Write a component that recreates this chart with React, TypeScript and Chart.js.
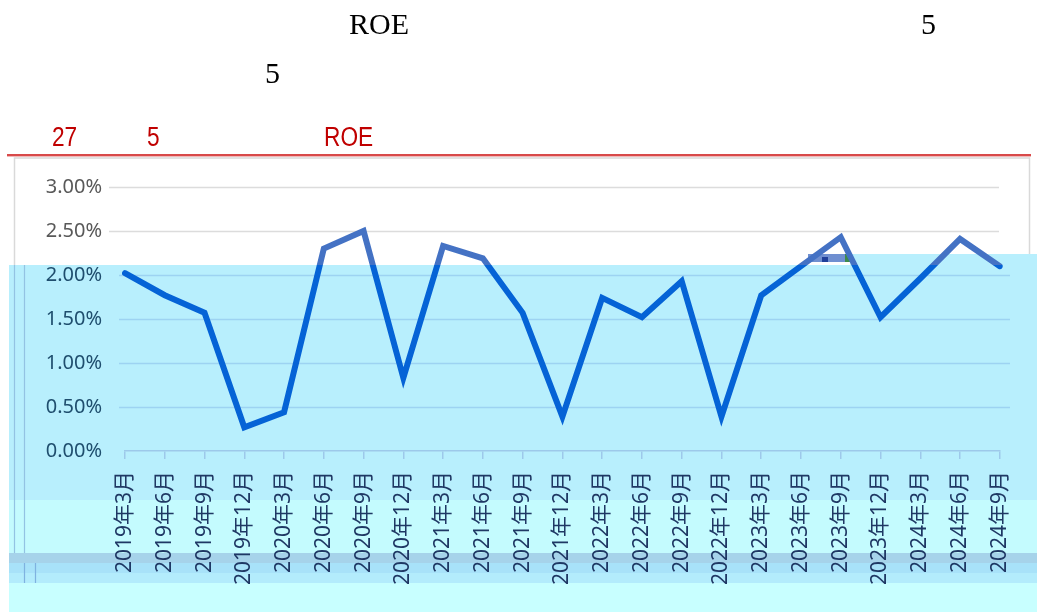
import React, { useEffect, useRef } from "react";
import { Chart, registerables } from "chart.js";

Chart.register(...registerables);

const categories = [
  "2019年3月", "2019年6月", "2019年9月", "2019年12月",
  "2020年3月", "2020年6月", "2020年9月", "2020年12月",
  "2021年3月", "2021年6月", "2021年9月", "2021年12月",
  "2022年3月", "2022年6月", "2022年9月", "2022年12月",
  "2023年3月", "2023年6月", "2023年9月", "2023年12月",
  "2024年3月", "2024年6月", "2024年9月",
];

const roeValues = [
  2.02, 1.77, 1.57, 0.27,
  0.44, 2.30, 2.50, 0.83,
  2.33, 2.19, 1.57, 0.39,
  1.74, 1.52, 1.93, 0.39,
  1.77, 2.10, 2.43, 1.52,
  1.96, 2.41, 2.10,
];

const yMin = 0;
const yMax = 3;
const yStep = 0.5;

const SPLIT_Y = 265;
const UPPER_LINE = "#4472c4";
const LOWER_LINE = "#0563d6";

const backgroundPlugin = {
  id: "bgPanels",
  beforeDraw(chart: any) {
    const c = chart.ctx;
    c.save();
    c.fillStyle = "#ffffff";
    c.fillRect(0, 0, chart.width, chart.height);
    // red rule
    c.fillStyle = "#f2b8b8";
    c.fillRect(7, 156, 1024, 1);
    c.fillStyle = "#d84a4a";
    c.fillRect(7, 154, 1024, 2);
    // chart frame (white part)
    c.strokeStyle = "#d9d9d9";
    c.lineWidth = 1.5;
    c.beginPath();
    c.moveTo(14.5, SPLIT_Y);
    c.lineTo(14.5, 158);
    c.lineTo(1029.5, 158);
    c.lineTo(1029.5, 255);
    c.stroke();
    // blue panels
    c.fillStyle = "#b8effd";
    c.fillRect(9, SPLIT_Y, 1028, 500 - SPLIT_Y);
    c.fillRect(850, 254, 187, SPLIT_Y - 254);
    // glitch block
    c.fillStyle = "#6f8fd0";
    c.fillRect(808, 254, 42, 8);
    c.fillStyle = "#1f3f9a";
    c.fillRect(822, 257, 6, 5);
    c.fillStyle = "#3d8a4a";
    c.fillRect(845, 254, 5, 8);
    c.fillStyle = "#c4fbfe";
    c.fillRect(9, 500, 1028, 53);
    c.fillStyle = "#a6d3ea";
    c.fillRect(9, 553, 1028, 10);
    c.fillStyle = "#a8e2f9";
    c.fillRect(9, 563, 1028, 10);
    c.fillStyle = "#b3ecfc";
    c.fillRect(9, 573, 1028, 10);
    c.fillStyle = "#c8ffff";
    c.fillRect(9, 583, 1028, 29);
    // faint vertical frame lines in the blue panel
    c.strokeStyle = "#93c3e3";
    c.lineWidth = 1.2;
    c.beginPath();
    c.moveTo(14.5, SPLIT_Y); c.lineTo(14.5, 553);
    c.moveTo(24.5, SPLIT_Y); c.lineTo(24.5, 553);
    c.stroke();
    c.strokeStyle = "#7fb2e0";
    c.beginPath();
    c.moveTo(24.5, 563); c.lineTo(24.5, 583);
    c.moveTo(35.5, 563); c.lineTo(35.5, 583);
    c.stroke();
    c.restore();
  },
  beforeDatasetsDraw(chart: any) {
    const c = chart.ctx;
    const ys = chart.scales.y;
    c.save();
    c.lineWidth = 1.5;
    for (let v = yMin; v <= yMax + 1e-9; v += yStep) {
      const py = Math.round(ys.getPixelForValue(v)) + 0.5;
      c.beginPath();
      if (py < SPLIT_Y) {
        c.strokeStyle = "#dcdcdc";
        c.moveTo(109, py);
        c.lineTo(999, py);
      } else if (v > 0) {
        c.strokeStyle = "#9dd3f2";
        c.moveTo(119, py);
        c.lineTo(1010, py);
      }
      c.stroke();
    }
    c.restore();
  },
};

export default function App() {
  const ref = useRef<HTMLCanvasElement>(null);

  useEffect(() => {
    if (!ref.current) return;
    const chart = new Chart(ref.current, {
      type: "line",
      data: {
        labels: categories,
        datasets: [
          {
            label: "ROE",
            data: roeValues,
            borderWidth: 6,
            pointRadius: 0,
            pointHoverRadius: 0,
            tension: 0,
            fill: false,
            borderJoinStyle: "miter",
            borderCapStyle: "round",
            borderColor: (ctx: any) => {
              const ch = ctx.chart;
              const g = ch.ctx.createLinearGradient(0, 0, 0, ch.height);
              const t = SPLIT_Y / ch.height;
              g.addColorStop(0, UPPER_LINE);
              g.addColorStop(t, UPPER_LINE);
              g.addColorStop(t, LOWER_LINE);
              g.addColorStop(1, LOWER_LINE);
              return g;
            },
          },
        ],
      },
      options: {
        responsive: false,
        animation: false,
        devicePixelRatio: 1,
        layout: { padding: { left: 0, right: 34, top: 187, bottom: 0 } },
        plugins: {
          legend: { display: false },
          tooltip: { enabled: false },
          title: { display: false },
        },
        scales: {
          x: {
            offset: false,
            grid: {
              display: true,
              drawOnChartArea: false,
              drawTicks: true,
              tickLength: 8,
              color: "#9dc9ea",
              lineWidth: 1.5,
            },
            border: { display: true, color: "#9dc9ea", width: 1.5 },
            ticks: {
              autoSkip: false,
              minRotation: 90,
              maxRotation: 90,
              padding: 12,
              color: "#1f3864",
              font: { family: "'Noto Sans', 'Noto Sans CJK SC', sans-serif", size: 21 },
            },
            afterFit: (scale: any) => {
              scale.height = 161;
            },
          },
          y: {
            min: yMin,
            max: yMax,
            grid: { display: false, drawTicks: false },
            border: { display: false },
            ticks: {
              stepSize: yStep,
              padding: 23,
              color: (ctx: any) => (ctx.tick && ctx.tick.value >= 2.5 ? "#595959" : "#1f4e6e"),
              font: { family: "'Noto Sans', sans-serif", size: 20 },
              callback: (v: any) => Number(v).toFixed(2) + "%",
            },
            afterFit: (scale: any) => {
              scale.width = 125;
            },
          },
        },
      },
      plugins: [backgroundPlugin],
    } as any);
    return () => chart.destroy();
  }, []);

  const serif: React.CSSProperties = {
    position: "absolute",
    fontFamily: "'Liberation Serif', 'Times New Roman', serif",
    fontSize: 30,
    lineHeight: "30px",
    color: "#000",
    whiteSpace: "nowrap",
  };
  const red: React.CSSProperties = {
    position: "absolute",
    fontFamily: "'Liberation Sans Narrow', 'Arial Narrow', 'Liberation Sans', sans-serif",
    fontSize: 27,
    lineHeight: "27px",
    color: "#c00000",
    whiteSpace: "nowrap",
    transform: "scaleX(0.84)",
    transformOrigin: "0 0",
  };

  return (
    <div
      style={{
        position: "fixed",
        left: 0,
        top: 0,
        width: 1037,
        height: 612,
        background: "#fff",
        overflow: "hidden",
      }}
    >
      <canvas
        ref={ref}
        width={1037}
        height={612}
        style={{ position: "absolute", left: 0, top: 0, width: 1037, height: 612 }}
      />
      <span style={{ ...serif, left: 349, top: 9 }}>ROE</span>
      <span style={{ ...serif, left: 921, top: 9 }}>5</span>
      <span style={{ ...serif, left: 265, top: 58 }}>5</span>
      <span style={{ ...red, left: 52, top: 124 }}>27</span>
      <span style={{ ...red, left: 147, top: 124 }}>5</span>
      <span style={{ ...red, left: 324, top: 124 }}>ROE</span>
    </div>
  );
}
